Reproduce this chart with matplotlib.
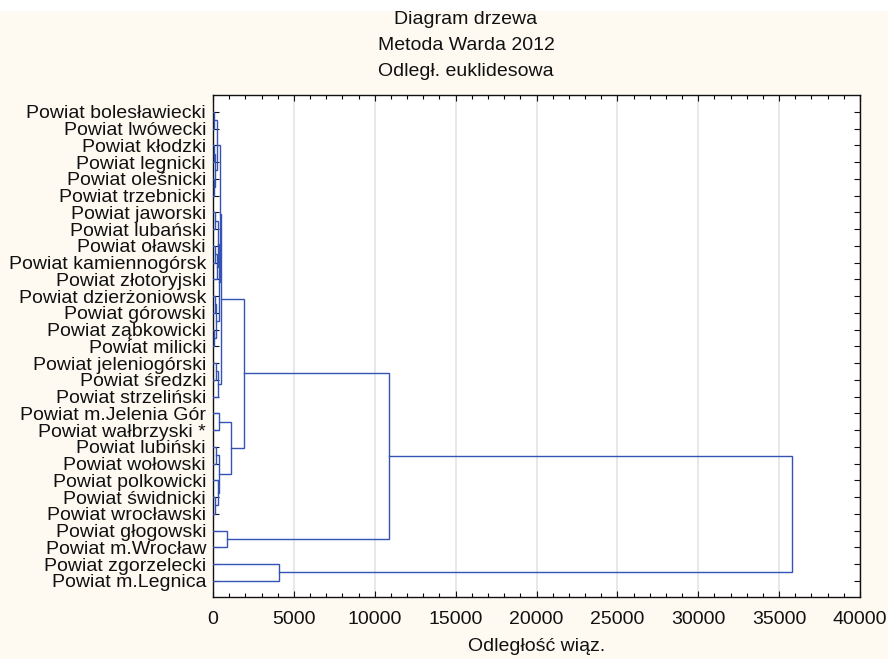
import matplotlib
matplotlib.use("Agg")
import matplotlib.pyplot as plt
from matplotlib.patches import Rectangle
from matplotlib.ticker import MultipleLocator

plt.rcParams["font.family"] = ["Liberation Sans", "DejaVu Sans"]

# leaves, top to bottom
leaves = [
    "Powiat bolesławiecki", "Powiat lwówecki", "Powiat kłodzki", "Powiat legnicki",
    "Powiat oleśnicki", "Powiat trzebnicki", "Powiat jaworski", "Powiat lubański",
    "Powiat oławski", "Powiat kamiennogórsk", "Powiat złotoryjski", "Powiat dzierżoniowsk",
    "Powiat górowski", "Powiat ząbkowicki", "Powiat milicki", "Powiat jeleniogórski",
    "Powiat średzki", "Powiat strzeliński", "Powiat m.Jelenia Gór", "Powiat wałbrzyski *",
    "Powiat lubiński", "Powiat wołowski", "Powiat polkowicki", "Powiat świdnicki",
    "Powiat wrocławski", "Powiat głogowski", "Powiat m.Wrocław", "Powiat zgorzelecki",
    "Powiat m.Legnica",
]

# merges: node ids < 29 are leaves, node 29 + k is merge k
merge_left = [0, 2, 4, 30, 29, 6, 8, 35, 34, 11, 13, 38, 37, 33,
              15, 43, 42, 18, 20, 23, 22, 47, 46, 45, 25, 52, 27, 54]
merge_right = [1, 3, 5, 31, 32, 7, 9, 10, 36, 12, 14, 39, 40, 41,
               16, 17, 44, 19, 21, 24, 48, 49, 50, 51, 26, 53, 28, 55]
merge_height = [60, 80, 70, 150, 250, 120, 140, 220, 300, 110, 90, 200, 380, 420,
                180, 300, 470, 400, 160, 140, 280, 360, 1100, 1900, 850, 10900,
                4050, 35800]

line_color = "#3553B4"
fs = 14.0

fig = plt.figure(figsize=(8.88, 6.59), dpi=100, facecolor="#FEFAF1")
fig.add_artist(Rectangle((0, 1 - 10 / 659), 1, 10 / 659, transform=fig.transFigure,
                         color="white", zorder=0))
ax = fig.add_axes([213 / 888, 1 - 597 / 659, (860 - 213) / 888, (597 - 95) / 659])
ax.set_facecolor("white")

n = len(leaves)
node_x = {i: 0.0 for i in range(n)}
node_y = {i: float(i) for i in range(n)}

for k, (a, b, h) in enumerate(zip(merge_left, merge_right, merge_height)):
    ya, yb = node_y[a], node_y[b]
    ax.plot([node_x[a], h, h, node_x[b]], [ya, ya, yb, yb],
            color=line_color, lw=1.0, solid_joinstyle="miter", zorder=3)
    node_x[n + k] = h
    node_y[n + k] = (ya + yb) / 2

ax.set_xlim(0, 40000)
ax.set_ylim(n - 0.03, -1.0)

ax.xaxis.set_major_locator(MultipleLocator(5000))
ax.xaxis.set_minor_locator(MultipleLocator(1000))
ax.set_yticks(range(n))
ax.set_yticklabels(leaves)

ax.tick_params(axis="x", which="major", direction="in", length=4, width=0.8,
               top=True, labelsize=fs, pad=10, colors="#111111")
ax.tick_params(axis="x", which="minor", direction="in", length=3, width=0.8, top=True)
ax.tick_params(axis="y", which="major", direction="in", length=4, width=0.8,
               right=True, labelsize=fs, pad=5, colors="#111111")

ax.grid(axis="x", which="major", color="#E6E6E6", lw=1.3, zorder=0)
ax.set_axisbelow(True)
for s in ax.spines.values():
    s.set_linewidth(1.0)
    s.set_color("#111111")

ax.set_xlabel("Odległość wiąz.", fontsize=fs, labelpad=7, color="#111111")

fig.text(466 / 888, 1 - 20 / 659, "Diagram drzewa", ha="center", va="center",
         fontsize=fs, color="#111111")
fig.text(466 / 888, 1 - 46 / 659, "Metoda Warda 2012", ha="center", va="center",
         fontsize=fs, color="#111111")
fig.text(466 / 888, 1 - 72 / 659, "Odległ. euklidesowa", ha="center", va="center",
         fontsize=fs, color="#111111")

fig.savefig("out.png", dpi=100, facecolor=fig.get_facecolor())
